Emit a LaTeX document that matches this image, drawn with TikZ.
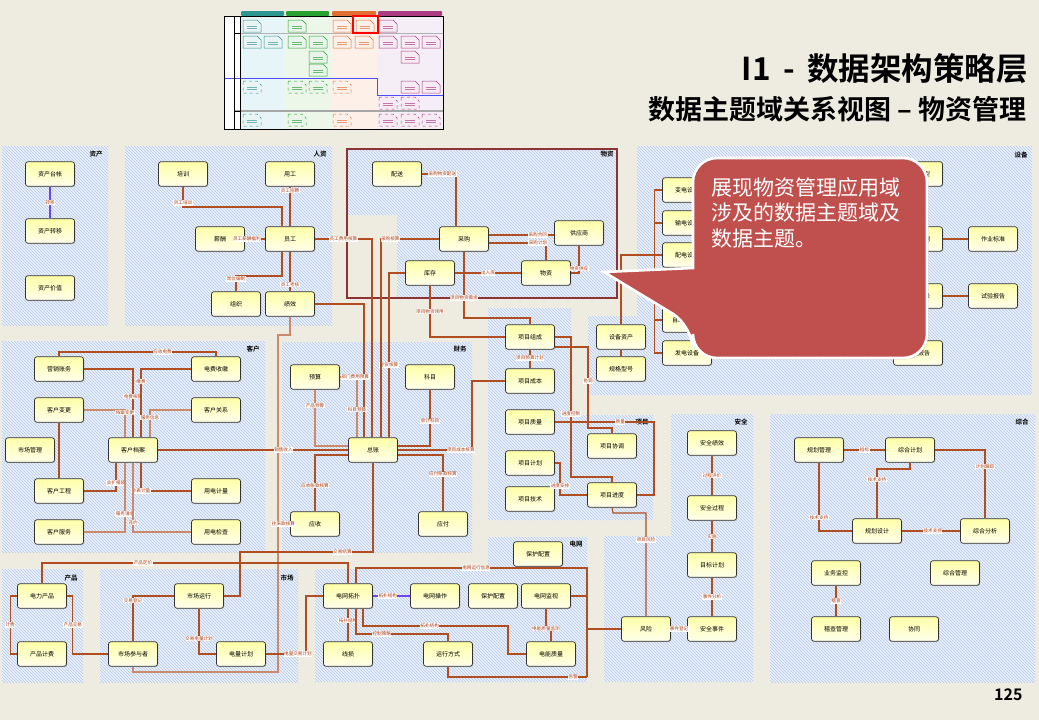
\documentclass[tikz,border=0pt]{standalone}
\usepackage{fontspec}
\setmainfont{Noto Sans CJK SC}[BoldFont={Noto Sans CJK SC Bold}]
\usetikzlibrary{patterns,shadows}

\definecolor{pagebg}{RGB}{238,236,225}
\definecolor{areabg}{RGB}{236,241,250}
\definecolor{hatch}{RGB}{178,200,232}
\definecolor{relc}{RGB}{176,78,34}
\definecolor{rellc}{RGB}{204,138,108}
\definecolor{relv}{RGB}{110,70,240}
\definecolor{lblc}{RGB}{170,60,20}
\definecolor{boxtop}{RGB}{255,255,168}
\definecolor{boxbot}{RGB}{255,255,236}
\definecolor{framec}{RGB}{140,52,52}
\definecolor{calloutc}{RGB}{192,80,77}
\definecolor{thteal}{RGB}{46,150,145}
\definecolor{thgreen}{RGB}{40,160,50}
\definecolor{thorange}{RGB}{225,110,50}
\definecolor{thpink}{RGB}{170,60,130}
\definecolor{thtealbg}{RGB}{232,245,248}
\definecolor{thgreenbg}{RGB}{236,247,233}
\definecolor{thorangebg}{RGB}{252,240,232}
\definecolor{thpinkbg}{RGB}{246,238,247}

\newcommand{\thumbdoc}[4][]{%
  \draw[#4, fill=#4!10, line width=0.5pt, #1] (#2,#3) -- ++(14,0) -- ++(4,4) -- ++(0,8) -- ++(-18,0) -- cycle;
  \draw[#4!70, line width=0.3pt] (#2+4,#3+6) -- ++(10,0) (#2+4,#3+8.5) -- ++(10,0);}

\tikzset{
  area/.style={preaction={fill=areabg}, pattern=north west lines, pattern color=hatch},
  areaname/.style={font=\bfseries\fontsize{6.5}{7}\selectfont},
  entity/.style={draw=black!80, line width=0.7pt, rounded corners=2.5pt,
    minimum width=49pt, minimum height=24.5pt, inner sep=1pt,
    top color=boxtop, bottom color=boxbot,
    drop shadow={shadow xshift=0.8pt, shadow yshift=-0.8pt, opacity=0.35},
    font=\fontsize{6}{7}\selectfont},
  rel/.style={draw=relc, line width=1.1pt},
  rell/.style={draw=rellc, line width=1.4pt},
  lbl/.style={fill=white, text=lblc, inner sep=0.5pt, font=\fontsize{4.6}{5}\selectfont},
}

\begin{document}
\begin{tikzpicture}[x=1pt,y=-1pt]
  \useasboundingbox (0,0) rectangle (1039,720);
  \fill[pagebg] (0,0) rectangle (1039,720);

  % thumbnail
  \fill[white] (224,16) rectangle (443,129);
  \fill[thtealbg] (240,16) rectangle (285,129);
  \fill[thgreenbg] (285,16) rectangle (331,129);
  \fill[thorangebg] (331,16) rectangle (377,129);
  \fill[thpinkbg] (377,16) rectangle (443,129);
  \fill[thteal, rounded corners=1pt] (241,11) rectangle (284,16);
  \fill[thgreen, rounded corners=1pt] (286,11) rectangle (329,16);
  \fill[thorange, rounded corners=1pt] (332,11) rectangle (376,16);
  \fill[thpink, rounded corners=1pt] (378,11) rectangle (442,16);
  \draw[gray!60, line width=0.6pt] (234,33) -- (443,33);
  \draw[gray!70, line width=1.2pt] (234,111) -- (443,111);
  \draw[blue!70, line width=0.8pt] (224,78) -- (377,78) -- (377,95) -- (443,95);
  \draw[black, line width=0.8pt] (224,16) rectangle (443,129) (234,16) -- (234,129) (240,16) -- (240,129)
    (234,33) -- (240,33) (234,111) -- (240,111);
  \foreach \x/\y in {243/20,243/36,264/36} \thumbdoc{\x}{\y}{thteal};
  \foreach \x/\y in {288/20,288/36,309/36,309/51,309/64} \thumbdoc{\x}{\y}{thgreen};
  \foreach \x/\y in {333/20,356/20,333/36,355/36} \thumbdoc{\x}{\y}{thorange};
  \foreach \x/\y in {379/20,379/36,401/36,422/36,401/51,401/81,422/81} \thumbdoc{\x}{\y}{thpink};
  \foreach \x/\y in {243/81,243/114} \thumbdoc[dashed]{\x}{\y}{thteal};
  \foreach \x/\y in {288/81,309/81,288/114} \thumbdoc[dashed]{\x}{\y}{thgreen};
  \foreach \x/\y in {333/81,333/114} \thumbdoc[dashed]{\x}{\y}{thorange};
  \foreach \x/\y in {379/97,401/97,379/114,401/114,422/114} \thumbdoc[dashed]{\x}{\y}{thpink};
  \draw[red, line width=1.6pt] (353,16) rectangle (378,33);

  % titles
  \node[anchor=base east, inner sep=0pt, font=\bfseries\fontsize{31.5}{33}\selectfont] (title) at (1028,80) {I1 \,-\, 数据架构策略层};
  \node[anchor=base east, inner sep=0pt, font=\bfseries\fontsize{27}{29}\selectfont] (subtitle) at (1027,119) {数据主题域关系视图 – 物资管理};

  % areas
  \path[area] (2,146) rectangle (108,325);
  \path[area] (125,146) rectangle (332,325);
  \path[area] (347,148) -- (617,148) -- (617,298) -- (397,298) -- (397,215) -- (347,215) -- cycle;
  \path[area] (637,146) -- (1032,146) -- (1032,395) -- (588,395) -- (588,316) -- (637,316) -- cycle;
  \path[area] (2,341) rectangle (265,552);
  \path[area] (282,342) rectangle (472,552);
  \path[area] (488,308) -- (571,308) -- (571,415) -- (653,415) -- (653,520) -- (488,520) -- cycle;
  \path[area] (671,414) -- (753,414) -- (753,682) -- (604,682) -- (604,536) -- (671,536) -- cycle;
  \path[area] (770,414) rectangle (1035,682);
  \path[area] (2,569) rectangle (83,682);
  \path[area] (100,569) rectangle (298,682);
  \path[area] (488,537) -- (587,537) -- (587,682) -- (315,682) -- (315,569) -- (488,569) -- cycle;
  \draw[framec, line width=2.6pt] (347,149) rectangle (617,298);

  \node[areaname] (n-zc) at (96,154) {资产};
  \node[areaname] (n-rz) at (320,154) {人资};
  \node[areaname] (n-wz) at (607,154) {物资};
  \node[areaname] (n-sb) at (1021,155) {设备};
  \node[areaname] (n-kh) at (253,349) {客户};
  \node[areaname] (n-cw) at (460,349) {财务};
  \node[areaname] (n-xm) at (642,422) {项目};
  \node[areaname] (n-aq) at (741,422) {安全};
  \node[areaname] (n-zh) at (1022,422) {综合};
  \node[areaname] (n-cp) at (71,578) {产品};
  \node[areaname] (n-sc) at (287,578) {市场};
  \node[areaname] (n-dw) at (576,544) {电网};

  % entities
  \node[entity] (zctz) at (50,174) {资产台帐};
  \node[entity] (zczy) at (50,231) {资产转移};
  \node[entity] (zcjz) at (50,288) {资产价值};

  \node[entity] (peixun) at (183,174) {培训};
  \node[entity] (yonggong) at (290,174) {用工};
  \node[entity] (xinchou) at (220,239) {薪酬};
  \node[entity] (yuangong) at (290,239) {员工};
  \node[entity] (zuzhi) at (236,304) {组织};
  \node[entity] (jixiao) at (290,304) {绩效};

  \node[entity] (peisong) at (397,174) {配送};
  \node[entity] (caigou) at (464,239) {采购};
  \node[entity] (gongying) at (579,233) {供应商};
  \node[entity] (kucun) at (430,273) {库存};
  \node[entity] (wuzi) at (546,273) {物资};

  \node[entity] (bdsb) at (687,190) {变电设备};
  \node[entity] (sdsb) at (687,223) {输电设备};
  \node[entity] (pdsb) at (687,255) {配电设备};
  \node[entity] (zdh) at (687,320) {自动化设备};
  \node[entity] (fdsb) at (687,353) {发电设备};
  \node[entity] (sbmx) at (918,174) {设备模型};
  \node[entity] (jxjh) at (918,239) {检修计划};
  \node[entity] (zybz) at (993,239) {作业标准};
  \node[entity] (syjl) at (918,296) {试验记录};
  \node[entity] (sybg) at (993,296) {试验报告};
  \node[entity] (qxbg) at (918,353) {缺陷报告};
  \node[entity] (sbzc) at (621,337) {设备资产};
  \node[entity] (ggxh) at (621,369) {规格型号};

  \node[entity] (yxzw) at (59,369) {营销账务};
  \node[entity] (dfsj) at (216,369) {电费收缴};
  \node[entity] (khbg) at (59,410) {客户变更};
  \node[entity] (khgx) at (216,410) {客户关系};
  \node[entity] (scgl) at (30,450) {市场管理};
  \node[entity] (khda) at (133,450) {客户档案};
  \node[entity] (khgc) at (59,491) {客户工程};
  \node[entity] (ydjl) at (216,491) {用电计量};
  \node[entity] (khfw) at (59,532) {客户服务};
  \node[entity] (ydjc) at (216,532) {用电检查};

  \node[entity] (yusuan) at (315,377) {预算};
  \node[entity] (kemu) at (430,377) {科目};
  \node[entity] (zongzhang) at (373,450) {总账};
  \node[entity] (yingshou) at (315,524) {应收};
  \node[entity] (yingfu) at (443,524) {应付};

  \node[entity] (xmzc) at (530,337) {项目组成};
  \node[entity] (xmcb) at (530,381) {项目成本};
  \node[entity] (xmzl) at (530,422) {项目质量};
  \node[entity] (xmjh) at (530,463) {项目计划};
  \node[entity] (xmjs) at (530,499) {项目技术};
  \node[entity] (xmxt) at (612,446) {项目协调};
  \node[entity] (xmjd) at (612,495) {项目进度};

  \node[entity] (aqjx) at (712,443) {安全绩效};
  \node[entity] (aqgc) at (712,508) {安全过程};
  \node[entity] (mbjh) at (712,565) {目标计划};
  \node[entity] (aqsj) at (712,629) {安全事件};
  \node[entity] (fengxian) at (646,629) {风险};

  \node[entity] (ghgl) at (819,450) {规划管理};
  \node[entity] (zhjh) at (910,450) {综合计划};
  \node[entity] (ghsj) at (877,531) {规划设计};
  \node[entity] (zhfx) at (985,531) {综合分析};
  \node[entity] (ywjk) at (836,573) {业务监控};
  \node[entity] (zhgl) at (955,573) {综合管理};
  \node[entity] (jcgl) at (836,629) {稽查管理};
  \node[entity] (xietong) at (914,629) {协同};

  \node[entity] (dlcp) at (42,596) {电力产品};
  \node[entity] (cpjf) at (42,654) {产品计费};
  \node[entity] (scyx) at (199,596) {市场运行};
  \node[entity] (scyz) at (133,654) {市场参与者};
  \node[entity] (dljh) at (241,654) {电量计划};

  \node[entity] (bhpz) at (538,554) {保护配置};
  \node[entity] (dwtp) at (348,596) {电网拓扑};
  \node[entity] (dwcz) at (435,596) {电网操作};
  \node[entity] (bhpzb) at (493,596) {保护配置};
  \node[entity] (dwjs) at (546,596) {电网监视};
  \node[entity] (xiansun) at (348,654) {线损};
  \node[entity] (yxfs) at (448,654) {运行方式};
  \node[entity] (dnzl) at (551,654) {电能质量};

  \coordinate (busN) at (587,568);
  \coordinate (busS) at (587,677);
  \coordinate (finbus) at (278,524);

  % relations
  \draw[rel, draw=relv] (zctz) -- node[lbl]{转移} (zczy);

  \draw[rel] (yonggong) -- node[lbl,pos=0.1]{员工招聘} (yuangong);
  \draw[rel] (peixun.south) -- node[lbl,pos=0.8]{员工培训} (183,207) -| ([xshift=-8pt]yuangong.north);
  \draw[rel] (xinchou) -- node[lbl,pos=0.1]{员工薪酬福利} (yuangong);
  \draw[rel] ([xshift=-8pt]yuangong.south) -- (282,276) -| node[lbl,pos=0.6]{岗位编制} (zuzhi.north);
  \draw[rel] (yuangong) -- node[lbl,pos=0.83]{员工考核} (jixiao);
  \draw[rel] (yuangong.east) -| node[lbl,pos=0.25]{员工费用核算} ([xshift=-1pt]zongzhang.north);
  \draw[rel] (jixiao.east) -| ([xshift=-9pt]zongzhang.north);
  \draw[rell] (jixiao.south) -- (290,335) -- (278,335) -- (278,672) -| (scyz.south);
  \draw[rel] (yingshou.west) -- node[lbl,pos=0.55]{往来款核算} (finbus);

  \draw[rel] (peisong.east) -| node[lbl,pos=0.3]{采购物资配送} ([xshift=-8pt]caigou.north);
  \draw[rel] ([yshift=4pt]caigou.east) -- node[lbl,pos=0.75]{采购合同} ([yshift=-2pt]gongying.west);
  \draw[rel] ([yshift=-4pt]caigou.east) -| node[lbl,pos=0.43]{采购计划} (wuzi.north);
  \draw[rel] (gongying.south) |- node[lbl,pos=0.42]{物资供应} (wuzi.east);
  \draw[rel] (kucun) -- node[lbl]{出入库} (wuzi);
  \draw[rel] (kucun.west) -| node[lbl,pos=0.78]{存货核算} ([xshift=16pt]zongzhang.north);
  \draw[rel] (caigou.west) -| node[lbl,pos=0.42]{采购核算} ([xshift=8pt]zongzhang.north);
  \draw[rel] (caigou.south) -- node[lbl,pos=0.7]{项目物资需求} (464,318) -| (xmzc.north);
  \draw[rel] (kucun.south) |- node[lbl,pos=0.25]{项目物资领用} (xmzc.west);

  \draw[rell] (yusuan.east) -| node[lbl,pos=0.45]{部门费用预算} node[lbl,pos=0.77]{科目预算} ([xshift=-16pt]zongzhang.north);
  \draw[rell] (yusuan.south) |- node[lbl,pos=0.14]{产品预算} ([yshift=4pt]zongzhang.west);
  \draw[rel] (kemu.south) |- node[lbl,pos=0.28]{会计科目} ([yshift=4pt]zongzhang.east);
  \draw[rel] (zongzhang.east) -- node[lbl,pos=0.85]{项目成本核算} (472,450) |- (xmcb.west);
  \draw[rel] ([yshift=-5pt]zongzhang.east) -| node[lbl,pos=0.67]{应付账款核算} (yingfu.north);
  \draw[rel] ([yshift=-5pt]zongzhang.west) -| node[lbl,pos=0.77]{应收账款核算} (yingshou.north);
  \draw[rel] (zongzhang.south) -- (373,552) -- node[lbl,pos=0.23]{交易结算} (240,552) |- (scyx.east);
  \draw[rel] (khda.east) -- node[lbl,pos=0.66]{销售收入} (zongzhang.west);

  \draw[rel] (yxzw.north) -- (59,352) -| node[lbl,pos=0.33]{应收电费} (dfsj.north);
  \draw[rel] (yxzw.east) -| node[lbl,pos=0.7]{电费核算} (khda.north);
  \draw[rel] (dfsj.west) -| node[lbl,pos=0.59]{缴费} ([xshift=8pt]khda.north);
  \draw[rell] (khbg.east) -| node[lbl,pos=0.55]{档案变更} ([xshift=-8pt]khda.north);
  \draw[rell] (khgx.west) -| node[lbl,pos=0.64]{服务信息} ([xshift=17pt]khda.north);
  \draw[rel] (khbg) -- (khgc);
  \draw[rel] (khgc.east) -| node[lbl,pos=0.64]{业扩报装} ([xshift=-17pt]khda.south);
  \draw[rel] (ydjl.west) -| node[lbl,pos=0.5]{抄表计量} ([xshift=8pt]khda.south);
  \draw[rell] (khfw.east) -| node[lbl,pos=0.63]{服务请求} ([xshift=-8pt]khda.south);
  \draw[rell] (ydjc.west) -| node[lbl,pos=0.57]{违约} (khda.south);

  \draw[rel] (xmzc) -- node[lbl,pos=0.45]{项目预算计划} (xmcb);
  \draw[rel] (xmzc.east) -- (571,337) -- node[lbl,pos=0.55]{进度控制} (571,477) -| (xmjd.north);
  \draw[rel] ([yshift=-10pt]xmzc.east) -- (588,347) -- node[lbl,pos=0.42]{协调} (588,428) -| (xmxt.north);
  \draw[rel] (xmzl.east) -- node[lbl,pos=0.66]{质量} (654,422) |- (xmjd.east);
  \draw[rel] (xmjh.east) -- (560,463) |- node[lbl,pos=0.36]{进度安排} (xmjd.west);
  \draw[rel] (xmjd.south) -- (613,513) -| node[lbl,pos=0.63]{项目风险} (fengxian.north);

  \draw[rel] (sbzc) -- (ggxh);
  \draw[rel] (sbzc.north) |- (pdsb.west);
  \draw[rel] (bdsb.west) -- ++(-8,0) |- (fdsb.west);
  \draw[rel] (sdsb.west) -- ++(-8,0);
  \draw[rel] (zdh.west) -- ++(-8,0);
  \draw[rel] (jxjh) -- (zybz);
  \draw[rel] (syjl) -- (sybg);

  \draw[rel] (aqjx) -- node[lbl]{过程评价} (aqgc);
  \draw[rel] (aqgc) -- node[lbl]{实施} (mbjh);
  \draw[rel] (mbjh) -- node[lbl]{事件分析} (aqsj);
  \draw[rel] (fengxian) -- node[lbl]{事件登记} (aqsj);

  \draw[rel] (ghgl) -- node[lbl]{指标} (zhjh);
  \draw[rel] (zhjh.east) -| node[lbl,pos=0.62]{计划跟踪} (zhfx.north);
  \draw[rel] (zhjh.south) -- (910,469) -| node[lbl,pos=0.61]{技术支持} (ghsj.north);
  \draw[rel] (ghgl.south) |- node[lbl,pos=0.4]{技术支持} (ghsj.west);
  \draw[rel] (ghsj) -- node[lbl,pos=0.53]{技术支持} (zhfx);
  \draw[rel] (ywjk) -- node[lbl]{稽查} (jcgl);

  \draw[rel] (dlcp.west) -- ++(-7,0) |- node[lbl,pos=0.25]{计费} (cpjf.west);
  \draw[rel] (dlcp.east) -- ++(6,0) |- node[lbl,pos=0.25]{产品交易} (scyz.west);
  \draw[rel] (dlcp.north) -- (42,563) -| node[lbl,pos=0.165]{产品定价} (dwtp.north);
  \draw[rel] (scyx.west) -| node[lbl,pos=0.55]{交易登记} (scyz.north);
  \draw[rel] (scyx.south) |- node[lbl,pos=0.33]{交易电量计划} (dljh.west);
  \draw[rel] (dljh.east) -- node[lbl,pos=0.8]{电量交易计划} (306,654) |- (dwtp.west);

  \draw[rel, draw=relv] (dwtp) -- node[lbl,pos=0.4]{拓扑结构} (dwcz);
  \draw[rel] (dwtp) -- node[lbl,pos=0.36]{拓扑结构} (xiansun);
  \draw[rel] ([xshift=8pt]dwtp.north) |- node[lbl,pos=0.76]{电网运行信息} (busN) -- (busS);
  \draw[rel] (dwjs.east) -- (dwjs.east -| busN);
  \draw[rel] (yxfs.south) |- node[lbl,pos=0.95]{告警} (busS);
  \draw[rel] (fengxian.west) -- (fengxian.west -| busN);
  \draw[rel] ([xshift=15pt]dwtp.south) |- node[lbl,pos=0.73]{拓扑结构} (508,626) |- (dnzl.west);
  \draw[rel] ([xshift=8pt]dwtp.south) -- (356,634) -| node[lbl,pos=0.14]{控制策略} (yxfs.north);
  \draw[rel] (dwjs.south) -- node[lbl,pos=0.9]{电能质量监测} ++(0,22) -| (dnzl.north);

  % callout
  \draw[fill=calloutc, draw=white, line width=2.6pt, drop shadow={shadow xshift=1.5pt, shadow yshift=-1.5pt, opacity=0.3}]
    (693,240) [rounded corners=24pt] -- (693,158) -- (927,158) -- (927,358) -- (693,358) -- (693,326)
    [sharp corners] -- (604,272) -- (693,268) -- cycle;
  \node[anchor=north west, inner sep=0pt, align=left, text=white, font=\fontsize{21}{25.5}\selectfont] (note) at (711,177)
    {展现物资管理应用域\\涉及的数据主题域及\\数据主题。};

  \node[anchor=base east, font=\bfseries\fontsize{16}{18}\selectfont] (pageno) at (1026,700) {125};
\end{tikzpicture}
\end{document}
